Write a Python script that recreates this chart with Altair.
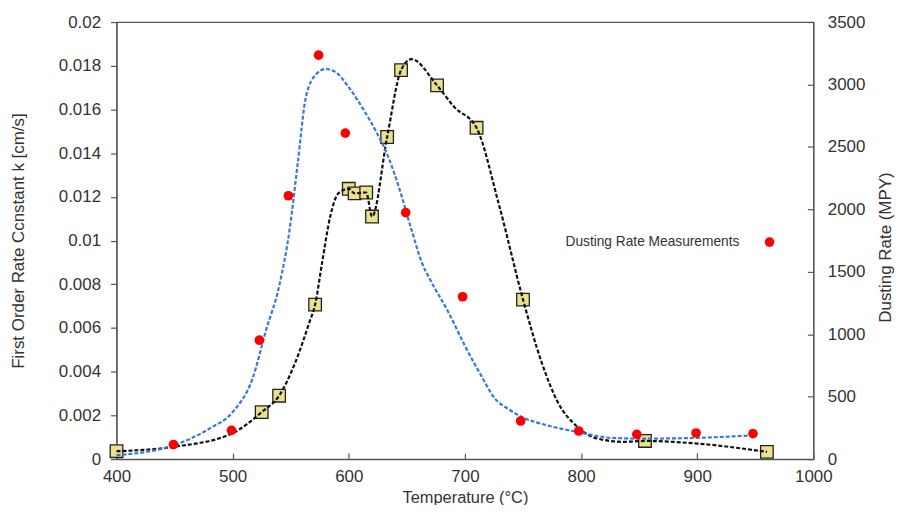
import altair as alt
import pandas as pd

# ---- data ----
# measured points (yellow squares), first-order rate constant k [cm/s]
sq_T = [400, 525, 540, 571, 600, 605, 615, 620, 633, 645, 676, 710, 750, 855, 960]
sq_k = [0.00036, 0.00215, 0.0029, 0.00707, 0.01237, 0.01216, 0.0122, 0.0111,
        0.01474, 0.0178, 0.0171, 0.01516, 0.0073, 0.00083, 0.00033]

# black dashed fitted curve through the squares
blk_T = [400, 449, 499, 525, 540, 554, 566, 571, 577, 584, 591, 600, 605, 615,
         620, 633, 645, 654, 676, 691, 710, 729, 750, 766, 780, 797, 814, 837,
         855, 900, 960]
blk_k = [0.00036, 0.00056, 0.00116, 0.00215, 0.0029, 0.00443, 0.00625, 0.00707,
         0.00898, 0.0111, 0.01216, 0.01237, 0.01216, 0.0122, 0.0111, 0.01474,
         0.0178, 0.0183, 0.0171, 0.0161, 0.01516, 0.0117, 0.0073, 0.00443,
         0.0026, 0.00147, 0.00094, 0.00079, 0.00083, 0.00071, 0.00033]

# blue dashed curve (dusting rate, MPY)
blue_T = [400, 449, 480, 500, 517, 529, 540, 549, 556, 563, 572, 580, 589, 600,
          614, 623, 634, 643, 654, 663, 670, 686, 700, 714, 726, 737, 749, 771,
          797, 826, 854, 900, 947]
blue_mpy = [31, 110, 244, 377, 642, 1040, 1384, 1836, 2367, 2897, 3084, 3124,
            3097, 2977, 2778, 2632, 2420, 2181, 1836, 1571, 1438, 1173, 907,
            668, 482, 403, 337, 270, 217, 170, 164, 170, 190]

# red dots: dusting rate measurements (MPY)
red_T = [449, 499, 523, 548, 574, 597, 649, 698, 748, 798, 848, 899, 948]
red_mpy = [116, 230, 952, 2109, 3235, 2611, 1974, 1300, 305, 225, 198, 209, 204]

x_ticks = [400, 500, 600, 700, 800, 900, 1000]
k_ticks = [0, 0.002, 0.004, 0.006, 0.008, 0.01, 0.012, 0.014, 0.016, 0.018, 0.02]
mpy_ticks = [0, 500, 1000, 1500, 2000, 2500, 3000, 3500]
legend_label = ["Dusting Rate Measurements"]

W, H = 700, 439
FONT = "Liberation Sans"

sq_df = pd.DataFrame({"T": sq_T, "k": sq_k})
blk_df = pd.DataFrame({"T": blk_T, "k": blk_k})
blue_df = pd.DataFrame({"T": blue_T, "mpy": blue_mpy})
red_df = pd.DataFrame({"T": red_T, "mpy": red_mpy})
leg_df = pd.DataFrame({"label": legend_label})

xscale = alt.Scale(domain=[400, 1000], nice=False, zero=False)
kscale = alt.Scale(domain=[0, 0.02], nice=False)
mscale = alt.Scale(domain=[0, 3500], nice=False)

x_bottom = alt.X("T:Q", scale=xscale, axis=alt.Axis(
    orient="bottom", values=x_ticks, format="d", tickSize=0, labelPadding=10,
    labelFlush=False,
    title="Temperature (°C)", titleX=W / 2, titleY=39, titleFontSize=16.5,
    titleBaseline="middle", titleAlign="center"))
x_none = alt.X("T:Q", scale=xscale, axis=None)
x_in = alt.X("T:Q", scale=xscale, axis=alt.Axis(
    orient="top", offset=-H, values=x_ticks, labels=False, domain=False,
    tickSize=6, title=None))

y_left = alt.Y("k:Q", scale=kscale, axis=alt.Axis(
    orient="left", values=k_ticks, format="~f", tickSize=6, labelPadding=10,
    labelFlush=False,
    title="First Order Rate Ccnstant k [cm/s]", titleX=-98, titleY=H / 2,
    titleAngle=270, titleBaseline="middle", titleAlign="center"))
y_right = alt.Y("mpy:Q", scale=mscale, axis=alt.Axis(
    orient="right", values=mpy_ticks, format="d", tickSize=0, labelPadding=14,
    labelFlush=False,
    title="Dusting Rate (MPY)", titleX=72, titleY=226,
    titleAngle=270, titleBaseline="middle", titleAlign="center"))
y_in = alt.Y("mpy:Q", scale=mscale, axis=alt.Axis(
    orient="left", offset=-W, values=mpy_ticks, labels=False, domain=False,
    tickSize=6, title=None))

sq_pts = alt.Chart(sq_df).mark_square(
    size=160, fill="#ece08e", stroke="#222", strokeWidth=1.3, opacity=1
).encode(x=x_bottom, y=y_left)
blk_line = alt.Chart(blk_df).mark_line(
    color="#111", strokeDash=[4, 2], strokeWidth=2.2, interpolate="monotone"
).encode(x=x_bottom, y=y_left)
layerA = alt.layer(sq_pts, blk_line)

blue = alt.Chart(blue_df).mark_line(
    color="#3a78d6", strokeDash=[4, 2], strokeWidth=2.2, interpolate="monotone"
).encode(x=x_none, y=y_right)
red = alt.Chart(red_df).mark_circle(color="#ff0000", size=95, opacity=1).encode(
    x=x_none, y=y_right)
leg_text = alt.Chart(leg_df).mark_text(
    align="left", baseline="middle", font=FONT, fontSize=13.8, color="#333"
).encode(x=alt.value(451), y=alt.value(221), text="label:N")
leg_dot = alt.Chart(leg_df).mark_circle(color="#ff0000", size=95, opacity=1).encode(
    x=alt.value(656), y=alt.value(221))
layerB = alt.layer(blue, red, leg_text, leg_dot)

ghost = alt.Chart(red_df).mark_point(opacity=0).encode(x=x_in, y=y_in)

chart = alt.layer(layerA, layerB, ghost).resolve_scale(
    y="independent"
).resolve_axis(
    x="independent", y="independent"
).properties(
    width=W, height=H,
    autosize=alt.AutoSizeParams(type="none"),
    padding={"left": 109, "top": 13, "right": 83, "bottom": 45},
    background="white",
).configure_axis(
    labelFont=FONT, labelFontSize=17, labelColor="#333",
    titleFont=FONT, titleFontSize=17, titleFontWeight="normal", titleColor="#333",
    domainColor="#555", tickColor="#555", domainWidth=1.2, tickWidth=1.2, grid=False,
).configure_view(stroke="#555", strokeWidth=1.2)

chart.save("out.html", embed_options={"renderer": "svg", "actions": False})
